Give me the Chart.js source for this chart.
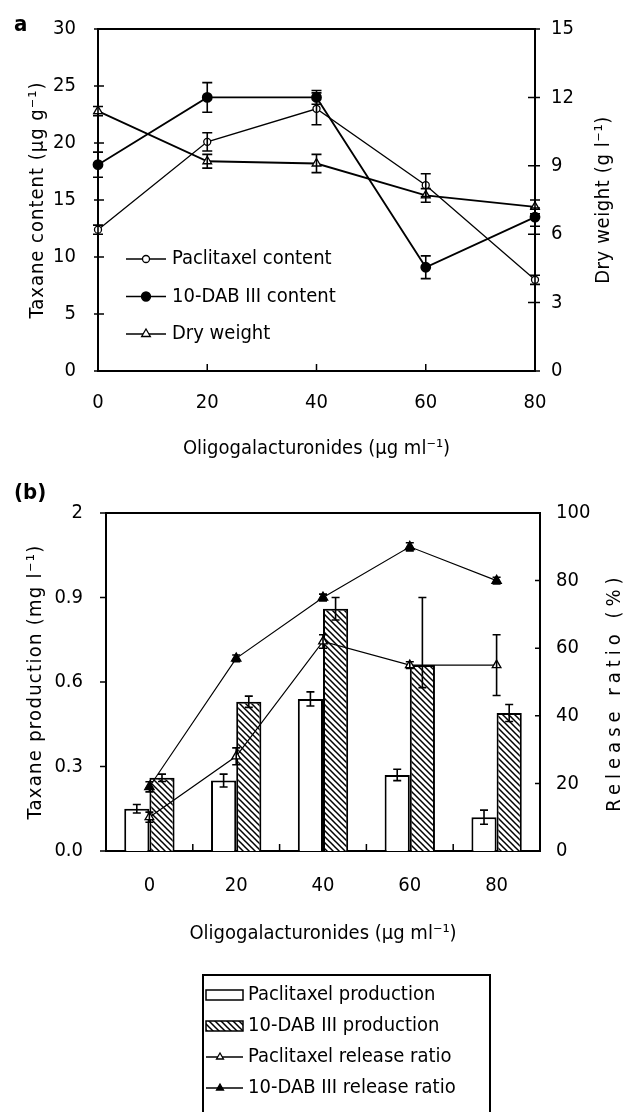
<!DOCTYPE html>
<html>
<head>
<meta charset="utf-8">
<script src="https://cdn.jsdelivr.net/npm/chart.js@4.4.1/dist/chart.umd.min.js"></script>
<style>
  html, body { margin: 0; padding: 0; background: #fff; }
  #wrap { position: relative; width: 627px; height: 1112px; overflow: hidden; }
  canvas { position: absolute; left: 0; }
  #chartA { top: 0; }
  #chartB { top: 470px; }
</style>
</head>
<body>
<div id="wrap">
  <canvas id="chartA" width="627" height="470"></canvas>
  <canvas id="chartB" width="627" height="642"></canvas>
</div>
<script>
// oligogalacturonide doses (ug/ml)
const doses = ['0', '20', '40', '60', '80'];

// (a) content and dry weight
const paclitaxelContent = [12.4, 20.1, 23.0, 16.3, 8.0];
const paclitaxelContentErr = [0.4, 0.8, 1.4, 1.0, 0.4];
const dabContent = [18.1, 24.0, 24.0, 9.1, 13.5];
const dabContentErr = [1.1, 1.3, 0.6, 1.0, 0.8];
const dryWeight = [11.4, 9.2, 9.1, 7.7, 7.2];
const dryWeightErr = [0.2, 0.3, 0.4, 0.3, 0.3];

// (b) production and release ratio
const paclitaxelProd = [0.15, 0.25, 0.54, 0.27, 0.12];
const paclitaxelProdErr = [0.015, 0.023, 0.025, 0.02, 0.025];
const dabProd = [0.26, 0.53, 0.86, 0.66, 0.49];
const dabProdErrUp = [0.013, 0.02, 0.04, 0.24, 0.03];
const dabProdErrDown = [0.013, 0.02, 0.04, 0.08, 0.03];
const paclitaxelRelease = [10, 28, 62, 55, 55];
const paclitaxelReleaseErr = [1.5, 2.5, 2, 1, 9];
const dabRelease = [19, 57, 75, 90, 80];
const dabReleaseErr = [1.5, 1, 1, 1.2, 1];

const FONT = "'Liberation Sans Narrow', 'DejaVu Sans Condensed', 'Arial Narrow', sans-serif";
Chart.defaults.font.family = FONT;
Chart.defaults.font.size = 20;
Chart.defaults.color = '#000';

function hatch() {
  const c = document.createElement('canvas');
  c.width = 6; c.height = 6;
  const g = c.getContext('2d');
  g.fillStyle = '#fff';
  g.fillRect(0, 0, 6, 6);
  g.strokeStyle = '#000';
  g.lineWidth = 1.5;
  g.beginPath();
  g.moveTo(-1, -1); g.lineTo(7, 7);
  g.moveTo(-1, 5); g.lineTo(1, 7);
  g.moveTo(5, -1); g.lineTo(7, 1);
  g.stroke();
  return g.createPattern(c, 'repeat');
}

function marker(ctx, style, filled, x, y, r) {
  ctx.save();
  ctx.fillStyle = filled ? '#000' : '#fff';
  ctx.strokeStyle = '#000';
  ctx.lineWidth = 1.3;
  ctx.beginPath();
  if (style === 'triangle') {
    ctx.moveTo(x, y - r);
    ctx.lineTo(x + r * 0.87, y + r * 0.5);
    ctx.lineTo(x - r * 0.87, y + r * 0.5);
    ctx.closePath();
  } else {
    ctx.arc(x, y, r, 0, Math.PI * 2);
  }
  ctx.fill();
  ctx.stroke();
  ctx.restore();
}

// frame round the plot area and short tick marks
const frameTicks = {
  id: 'frameTicks',
  beforeDatasetsDraw(chart, args, opts) {
    const ctx = chart.ctx;
    const a = chart.chartArea;
    ctx.save();
    ctx.strokeStyle = '#000';
    ctx.lineWidth = 2;
    ctx.strokeRect(a.left, a.top, a.right - a.left, a.bottom - a.top);
    ctx.lineWidth = 1.5;
    ctx.beginPath();
    for (const m of opts.marks) {
      const s = chart.scales[m.scale];
      let px;
      if (m.between) {
        px = [];
        for (let i = 1; i < s.ticks.length; i++) px.push((s.getPixelForTick(i - 1) + s.getPixelForTick(i)) / 2);
      } else {
        px = s.ticks.map((t, i) => s.getPixelForTick(i));
      }
      px.forEach(p => {
        if (m.scale === 'x') {
          ctx.moveTo(p, a.bottom + m.out);
          ctx.lineTo(p, a.bottom - m.in);
        } else if (s.position === 'left') {
          ctx.moveTo(a.left - m.out, p);
          ctx.lineTo(a.left + m.in, p);
        } else {
          ctx.moveTo(a.right + m.out, p);
          ctx.lineTo(a.right - m.in, p);
        }
      });
    }
    ctx.stroke();
    ctx.restore();
  }
};

const errorBars = {
  id: 'errorBars',
  afterDatasetsDraw(chart, args, opts) {
    const ctx = chart.ctx;
    ctx.save();
    ctx.strokeStyle = '#000';
    ctx.lineWidth = 1.6;
    chart.data.datasets.forEach((ds, di) => {
      if (!ds.errUp) return;
      const meta = chart.getDatasetMeta(di);
      const s = chart.scales[meta.yAxisID];
      meta.data.forEach((el, i) => {
        const v = ds.data[i];
        const x = el.x;
        const y1 = s.getPixelForValue(v + ds.errUp[i]);
        const y2 = s.getPixelForValue(v - ds.errDown[i]);
        const w = opts.cap;
        ctx.beginPath();
        ctx.moveTo(x, y1); ctx.lineTo(x, y2);
        ctx.moveTo(x - w, y1); ctx.lineTo(x + w, y1);
        ctx.moveTo(x - w, y2); ctx.lineTo(x + w, y2);
        ctx.stroke();
      });
    });
    ctx.restore();
  }
};

// rotated axis titles with letter spacing, panel letter, legends
const decor = {
  id: 'decor',
  afterDraw(chart, args, opts) {
    const ctx = chart.ctx;
    const a = chart.chartArea;
    const mid = (a.top + a.bottom) / 2;
    for (const t of opts.titles) {
      ctx.save();
      ctx.font = '20px ' + FONT;
      ctx.letterSpacing = t.spacing + 'px';
      ctx.fillStyle = '#000';
      ctx.translate(t.x, mid + (t.dy || 0));
      ctx.rotate(-Math.PI / 2);
      ctx.textAlign = 'center';
      ctx.textBaseline = 'middle';
      ctx.fillText(t.text, 0, 0);
      ctx.restore();
    }
    ctx.save();
    ctx.font = 'bold 22px ' + FONT;
    ctx.fillStyle = '#000';
    ctx.textBaseline = 'middle';
    ctx.fillText(opts.letter.text, opts.letter.x, opts.letter.y);
    ctx.restore();

    const lg = opts.legend;
    ctx.save();
    ctx.font = '20px ' + FONT;
    ctx.fillStyle = '#000';
    ctx.textBaseline = 'middle';
    if (lg.box) {
      ctx.strokeStyle = '#000';
      ctx.lineWidth = 2;
      ctx.strokeRect(lg.box[0], lg.box[1], lg.box[2], lg.box[3]);
    }
    lg.items.forEach((it, i) => {
      const y = lg.y + i * lg.step;
      ctx.strokeStyle = '#000';
      if (it.kind === 'bar') {
        ctx.fillStyle = it.fill;
        ctx.lineWidth = 1.5;
        ctx.fillRect(lg.x0, y - 5, lg.x1 - lg.x0, 10);
        ctx.strokeRect(lg.x0, y - 5, lg.x1 - lg.x0, 10);
      } else {
        ctx.lineWidth = 1.5;
        ctx.beginPath();
        ctx.moveTo(lg.x0, y); ctx.lineTo(lg.x1, y);
        ctx.stroke();
        marker(ctx, it.style, it.filled, lg.xm, y, it.r);
      }
      ctx.fillStyle = '#000';
      ctx.fillText(it.text, lg.xt, y);
    });
    ctx.restore();
  }
};

function yScale(pos, min, max, step, pad, width, cb) {
  return {
    position: pos, min: min, max: max,
    grid: { display: false, drawTicks: false },
    border: { display: false },
    ticks: { stepSize: step, padding: pad, callback: cb },
    afterFit(s) { s.width = width; s.paddingTop = 0; s.paddingBottom = 0; }
  };
}

new Chart(document.getElementById('chartA'), {
  type: 'line',
  data: {
    labels: doses,
    datasets: [
      {
        label: 'Paclitaxel content', data: paclitaxelContent, yAxisID: 'y',
        errUp: paclitaxelContentErr, errDown: paclitaxelContentErr,
        borderColor: '#000', borderWidth: 1.3, pointStyle: 'circle', pointRadius: 3.5,
        pointBackgroundColor: '#fff', pointBorderColor: '#000', pointBorderWidth: 1.3, clip: false
      },
      {
        label: '10-DAB III content', data: dabContent, yAxisID: 'y',
        errUp: dabContentErr, errDown: dabContentErr,
        borderColor: '#000', borderWidth: 1.8, pointStyle: 'circle', pointRadius: 4.5,
        pointBackgroundColor: '#000', pointBorderColor: '#000', clip: false
      },
      {
        label: 'Dry weight', data: dryWeight, yAxisID: 'y1',
        errUp: dryWeightErr, errDown: dryWeightErr,
        borderColor: '#000', borderWidth: 1.8, pointStyle: 'triangle', pointRadius: 5,
        pointBackgroundColor: '#fff', pointBorderColor: '#000', pointBorderWidth: 1.3, clip: false
      }
    ]
  },
  options: {
    responsive: false,
    animation: false,
    layout: { padding: { top: 29, left: 0, right: 0, bottom: 0 } },
    plugins: {
      legend: { display: false },
      tooltip: { enabled: false },
      errorBars: { cap: 5 },
      frameTicks: { marks: [
        { scale: 'y', out: 4, in: 6 },
        { scale: 'y1', out: 5, in: 7 },
        { scale: 'x', out: 0, in: 7 }
      ] },
      decor: {
        titles: [
          { text: 'Taxane content (\u03bcg g\u207b\u00b9)', x: 38, spacing: 1.0 },
          { text: 'Dry weight (g l\u207b\u00b9)', x: 604, spacing: 0.6 }
        ],
        letter: { text: 'a', x: 14, y: 25 },
        legend: {
          x0: 126, x1: 166, xm: 146, xt: 172, y: 259, step: 37.5,
          items: [
            { text: 'Paclitaxel content', style: 'circle', filled: false, r: 3.5 },
            { text: '10-DAB III content', style: 'circle', filled: true, r: 4.5 },
            { text: 'Dry weight', style: 'triangle', filled: false, r: 5 }
          ]
        }
      }
    },
    scales: {
      x: {
        type: 'category', offset: false,
        grid: { display: false, drawTicks: false },
        border: { display: false },
        ticks: { padding: 20, maxRotation: 0 },
        title: { display: true, text: 'Oligogalacturonides (\u03bcg ml\u207b\u00b9)', font: { size: 20 }, padding: { top: 0, bottom: 9 } },
        afterFit(s) { s.height = 99; s.paddingLeft = 0; s.paddingRight = 0; }
      },
      y: yScale('left', 0, 30, 5, 22, 98),
      y1: yScale('right', 0, 15, 3, 16, 92)
    }
  },
  plugins: [frameTicks, errorBars, decor]
});

const hatchFill = hatch();

new Chart(document.getElementById('chartB'), {
  type: 'bar',
  data: {
    labels: doses,
    datasets: [
      {
        type: 'line', label: 'Paclitaxel release ratio', data: paclitaxelRelease, yAxisID: 'y1', order: 0,
        errUp: paclitaxelReleaseErr, errDown: paclitaxelReleaseErr,
        borderColor: '#000', borderWidth: 1.2, pointStyle: 'triangle', pointRadius: 5,
        pointBackgroundColor: '#fff', pointBorderColor: '#000', pointBorderWidth: 1.3
      },
      {
        type: 'line', label: '10-DAB III release ratio', data: dabRelease, yAxisID: 'y1', order: 0,
        errUp: dabReleaseErr, errDown: dabReleaseErr,
        borderColor: '#000', borderWidth: 1.2, pointStyle: 'triangle', pointRadius: 5.5,
        pointBackgroundColor: '#000', pointBorderColor: '#000'
      },
      {
        label: 'Paclitaxel production', data: paclitaxelProd, yAxisID: 'y', order: 1,
        errUp: paclitaxelProdErr, errDown: paclitaxelProdErr,
        backgroundColor: '#fff', borderColor: '#000', borderWidth: 2,
        categoryPercentage: 0.58, barPercentage: 1.0
      },
      {
        label: '10-DAB III production', data: dabProd, yAxisID: 'y', order: 1,
        errUp: dabProdErrUp, errDown: dabProdErrDown,
        backgroundColor: hatchFill, borderColor: '#000', borderWidth: 2,
        categoryPercentage: 0.58, barPercentage: 1.0
      }
    ]
  },
  options: {
    responsive: false,
    animation: false,
    layout: { padding: { top: 43, left: 0, right: 0, bottom: 160 } },
    plugins: {
      legend: { display: false },
      tooltip: { enabled: false },
      errorBars: { cap: 4 },
      frameTicks: { marks: [
        { scale: 'y', out: 6, in: 0 },
        { scale: 'y1', out: 0, in: 5 },
        { scale: 'x', out: 0, in: 7, between: true }
      ] },
      decor: {
        titles: [
          { text: 'Taxane production (mg l\u207b\u00b9)', x: 36, spacing: 1.3 },
          { text: 'Release ratio (%)', x: 615, spacing: 5, dy: 10 }
        ],
        letter: { text: '(b)', x: 14, y: 23 },
        legend: {
          box: [203, 505, 287, 150],
          x0: 206, x1: 243, xm: 220, xt: 248, y: 525, step: 31,
          items: [
            { kind: 'bar', fill: '#fff', text: 'Paclitaxel production' },
            { kind: 'bar', fill: hatchFill, text: '10-DAB III production' },
            { text: 'Paclitaxel release ratio', style: 'triangle', filled: false, r: 4 },
            { text: '10-DAB III release ratio', style: 'triangle', filled: true, r: 4 }
          ]
        }
      }
    },
    scales: {
      x: {
        type: 'category', offset: true,
        grid: { display: false, drawTicks: false },
        border: { display: false },
        ticks: { padding: 23, maxRotation: 0 },
        title: { display: true, text: 'Oligogalacturonides (\u03bcg ml\u207b\u00b9)', font: { size: 20 }, padding: { top: 0, bottom: 6 } },
        afterFit(s) { s.height = 101; s.paddingLeft = 0; s.paddingRight = 0; }
      },
      y: yScale('left', 0, 1.2, 0.3, 23, 106, v => (Math.abs(v - 1.2) < 1e-6 ? '2' : v.toFixed(1))),
      y1: yScale('right', 0, 100, 20, 16, 87)
    }
  },
  plugins: [frameTicks, errorBars, decor]
});
</script>
</body>
</html>
